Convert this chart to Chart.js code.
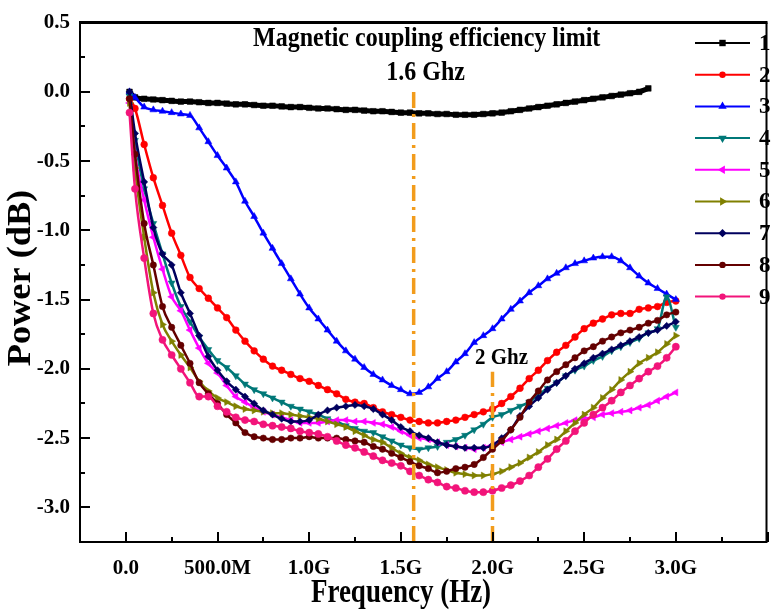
<!DOCTYPE html>
<html>
<head>
<meta charset="utf-8">
<script src="https://cdn.jsdelivr.net/npm/chart.js@4.4.1/dist/chart.umd.min.js"></script>
<style>
  html, body { margin: 0; padding: 0; background: #fff; }
  #wrap { width: 772px; height: 610px; }
</style>
</head>
<body>
<div id="wrap"><canvas id="grafico" width="772" height="610"></canvas></div>
<script>
// Frequencies of the sweep, in GHz
const freqGHz = [
  0.02, 0.05, 0.10, 0.15, 0.20, 0.25, 0.30, 0.35, 0.40, 0.45,
  0.50, 0.55, 0.60, 0.65, 0.70, 0.75, 0.80, 0.85, 0.90, 0.95,
  1.00, 1.05, 1.10, 1.15, 1.20, 1.25, 1.30, 1.35, 1.40, 1.45,
  1.50, 1.55, 1.60, 1.65, 1.70, 1.75, 1.80, 1.85, 1.90, 1.95,
  2.00, 2.05, 2.10, 2.15, 2.20, 2.25, 2.30, 2.35, 2.40, 2.45,
  2.50, 2.55, 2.60, 2.65, 2.70, 2.75, 2.80, 2.85, 2.90, 2.95,
  3.00
];

const seriesNames = ["1", "2", "3", "4", "5", "6", "7", "8", "9"];

// Power (dB) per series, same order as freqGHz
const power1 = [
  0.00, -0.04, -0.05, -0.055, -0.06, -0.065, -0.07, -0.07, -0.075, -0.08,
  -0.08, -0.085, -0.09, -0.09, -0.095, -0.10, -0.10, -0.105, -0.11, -0.11,
  -0.115, -0.12, -0.12, -0.125, -0.13, -0.13, -0.135, -0.14, -0.14, -0.145,
  -0.15, -0.15, -0.155, -0.155, -0.16, -0.16, -0.165, -0.165, -0.165, -0.16,
  -0.155, -0.15, -0.14, -0.13, -0.12, -0.11, -0.10, -0.09, -0.08, -0.07,
  -0.06, -0.05, -0.04, -0.03, -0.02, -0.01, 0.00, 0.025
];
const power2 = [
  -0.05, -0.12, -0.38, -0.62, -0.82, -1.02, -1.18, -1.34, -1.42, -1.49,
  -1.56, -1.63, -1.72, -1.80, -1.87, -1.93, -1.98, -2.01, -2.04, -2.07,
  -2.09, -2.12, -2.15, -2.18, -2.22, -2.24, -2.25, -2.28, -2.31, -2.33,
  -2.35, -2.37, -2.38, -2.39, -2.39, -2.38, -2.37, -2.35, -2.33, -2.31,
  -2.29, -2.25, -2.20, -2.14, -2.07, -2.01, -1.94, -1.88, -1.83, -1.77,
  -1.71, -1.67, -1.64, -1.61, -1.60, -1.60, -1.57, -1.56, -1.55, -1.52,
  -1.51
];
const power3 = [
  0.00, -0.04, -0.11, -0.13, -0.14, -0.15, -0.16, -0.17, -0.26, -0.36,
  -0.46, -0.55, -0.65, -0.79, -0.90, -1.02, -1.13, -1.24, -1.35, -1.46,
  -1.56, -1.64, -1.72, -1.80, -1.87, -1.93, -1.99, -2.04, -2.08, -2.12,
  -2.15, -2.18, -2.17, -2.13, -2.07, -2.02, -1.95, -1.89, -1.81, -1.76,
  -1.71, -1.64, -1.57, -1.51, -1.45, -1.40, -1.35, -1.31, -1.27, -1.24,
  -1.22, -1.20, -1.19, -1.19, -1.22, -1.27, -1.33, -1.38, -1.42, -1.46,
  -1.50
];
const power4 = [
  -0.03, -0.35, -0.70, -0.95, -1.17, -1.38, -1.55, -1.66, -1.77, -1.86,
  -1.94, -1.99, -2.05, -2.11, -2.15, -2.18, -2.21, -2.24, -2.27, -2.29,
  -2.31, -2.33, -2.36, -2.38, -2.41, -2.43, -2.45, -2.46, -2.49, -2.52,
  -2.55, -2.57, -2.58, -2.57, -2.56, -2.53, -2.51, -2.48, -2.44, -2.40,
  -2.35, -2.33, -2.30, -2.27, -2.24, -2.19, -2.14, -2.10, -2.05, -2.01,
  -1.98, -1.94, -1.91, -1.87, -1.84, -1.81, -1.78, -1.74, -1.71, -1.48,
  -1.70
];
const power5 = [
  -0.08, -0.45, -0.78, -1.05, -1.28, -1.48, -1.58, -1.72, -1.85, -1.96,
  -2.03, -2.12, -2.20, -2.24, -2.28, -2.31, -2.33, -2.35, -2.37, -2.39,
  -2.39, -2.39, -2.38, -2.37, -2.37, -2.38, -2.38, -2.39, -2.40, -2.42,
  -2.45, -2.48, -2.50, -2.51, -2.53, -2.55, -2.56, -2.57, -2.58, -2.57,
  -2.55, -2.53, -2.51, -2.49, -2.47, -2.45, -2.43, -2.41, -2.39, -2.37,
  -2.36, -2.35, -2.33, -2.32, -2.31, -2.30, -2.28, -2.26, -2.23, -2.20,
  -2.17
];
const power6 = [
  -0.08, -0.55, -1.05, -1.45, -1.68, -1.80, -1.90, -1.99, -2.09, -2.16,
  -2.21, -2.24, -2.27, -2.29, -2.30, -2.31, -2.32, -2.32, -2.33, -2.34,
  -2.35, -2.36, -2.38, -2.40, -2.42, -2.45, -2.48, -2.51, -2.53, -2.57,
  -2.61, -2.64, -2.66, -2.69, -2.71, -2.73, -2.75, -2.76, -2.77, -2.77,
  -2.76, -2.74, -2.71, -2.68, -2.64, -2.60, -2.55, -2.51, -2.45, -2.39,
  -2.33, -2.28, -2.21, -2.15, -2.08, -2.02, -1.96, -1.92, -1.88, -1.82,
  -1.76
];
const power7 = [
  0.00, -0.30, -0.65, -0.98, -1.17, -1.25, -1.45, -1.60, -1.76, -1.91,
  -2.01, -2.09, -2.15, -2.20, -2.25, -2.30, -2.33, -2.36, -2.38, -2.38,
  -2.37, -2.33, -2.30, -2.28, -2.27, -2.26, -2.27, -2.29, -2.33, -2.37,
  -2.42, -2.45, -2.48, -2.50, -2.53, -2.55, -2.56, -2.57, -2.57, -2.57,
  -2.55, -2.50, -2.44, -2.34, -2.27, -2.21, -2.15, -2.10, -2.05, -2.00,
  -1.96, -1.92, -1.89, -1.86, -1.83, -1.80, -1.77, -1.74, -1.72, -1.69,
  -1.66
];
const power8 = [
  -0.05, -0.45, -0.95, -1.25, -1.55, -1.70, -1.83, -1.96, -2.10, -2.18,
  -2.25, -2.33, -2.39, -2.46, -2.49, -2.50, -2.51, -2.51, -2.50, -2.50,
  -2.49, -2.50, -2.50, -2.50, -2.51, -2.52, -2.53, -2.56, -2.58, -2.61,
  -2.64, -2.67, -2.70, -2.72, -2.75, -2.74, -2.72, -2.71, -2.69, -2.64,
  -2.58, -2.52, -2.44, -2.35, -2.24, -2.16, -2.08, -2.02, -1.97, -1.92,
  -1.87, -1.84, -1.80, -1.77, -1.74, -1.72, -1.70, -1.67, -1.65, -1.61,
  -1.59
];
const power9 = [
  -0.15, -0.70, -1.20, -1.60, -1.79, -1.90, -2.00, -2.10, -2.20, -2.20,
  -2.27, -2.31, -2.35, -2.37, -2.38, -2.40, -2.41, -2.42, -2.43, -2.45,
  -2.46, -2.47, -2.49, -2.52, -2.55, -2.57, -2.60, -2.63, -2.66, -2.68,
  -2.70, -2.74, -2.77, -2.80, -2.82, -2.85, -2.86, -2.88, -2.89, -2.89,
  -2.88, -2.86, -2.84, -2.81, -2.77, -2.71, -2.65, -2.58, -2.52, -2.45,
  -2.39, -2.33, -2.28, -2.23, -2.17, -2.12, -2.07, -2.02, -1.98, -1.92,
  -1.84
];
const allPower = [power1, power2, power3, power4, power5, power6, power7, power8, power9];

// Marked limits: frequency (GHz) and top of each dashed line (dB)
const limitFreqGHz = [1.57, 2.0];
const limitTopDb = [0.035, -2.02];

// Axis ticks
const xTickLabels = ["0.0", "500.0M", "1.0G", "1.5G", "2.0G", "2.5G", "3.0G"];
const yTickLabels = ["0.5", "0.0", "-0.5", "-1.0", "-1.5", "-2.0", "-2.5", "-3.0"];

// Styles
const colors = ["#000000", "#ff0000", "#0000ff", "#007878", "#ff00ff", "#808000", "#00005e", "#640000", "#f2147a"];
const markers = ["rect", "circle", "triangle", "triangle", "triangle", "triangle", "rectRot", "circle", "circle"];
const rotations = [0, 0, 0, 180, 270, 90, 0, 0, 0];
const radii = [4, 3.4, 4, 4, 4, 4, 3.6, 3.2, 3.6];
const ORANGE = "#f29c1c";
const SERIF = "'Liberation Serif', 'Times New Roman', serif";

function isMultiple(v, step) {
  const q = v / step;
  return Math.abs(q - Math.round(q)) < 1e-6;
}

function pontos(valores) {
  return valores.map((v, i) => ({ x: freqGHz[i] * 1e9, y: v }));
}

// Marker for the legend (same shapes as Chart.js points)
function marcador(ctx, estilo, rot, r, x, y, cor) {
  ctx.save();
  ctx.translate(x, y);
  ctx.rotate(rot * Math.PI / 180);
  ctx.fillStyle = cor;
  ctx.beginPath();
  if (estilo === "circle") {
    ctx.arc(0, 0, r, 0, Math.PI * 2);
  } else if (estilo === "rect") {
    ctx.rect(-r, -r, 2 * r, 2 * r);
  } else if (estilo === "rectRot") {
    ctx.moveTo(0, -r * 1.3); ctx.lineTo(r * 1.3, 0); ctx.lineTo(0, r * 1.3); ctx.lineTo(-r * 1.3, 0);
  } else {
    const h = r * 1.5;
    ctx.moveTo(0, -h); ctx.lineTo(h * 0.87, h * 0.5); ctx.lineTo(-h * 0.87, h * 0.5);
  }
  ctx.closePath();
  ctx.fill();
  ctx.restore();
}

function texto(ctx, s, x, y, size, sx, sy, rot) {
  ctx.save();
  ctx.translate(x, y);
  if (rot) ctx.rotate(rot);
  ctx.scale(sx, sy);
  ctx.font = "bold " + size + "px " + SERIF;
  ctx.textAlign = "center";
  ctx.textBaseline = "middle";
  ctx.fillStyle = "#000";
  ctx.fillText(s, 0, 0);
  ctx.restore();
}

// Frame, inward ticks, titles, notes and legend
const moldura = {
  id: "moldura",
  afterDatasetsDraw(chart) {
    const { ctx, chartArea: a, scales: { x, y } } = chart;
    ctx.save();
    ctx.strokeStyle = "#000";
    ctx.lineWidth = 2;
    ctx.beginPath();
    y.ticks.forEach((t) => {
      const py = Math.round(y.getPixelForValue(t.value));
      const len = isMultiple(t.value, 0.5) ? 10 : 5;
      ctx.moveTo(a.left, py); ctx.lineTo(a.left + len, py);
    });
    x.ticks.forEach((t) => {
      const px = Math.round(x.getPixelForValue(t.value));
      const len = isMultiple(t.value, 0.5e9) ? 10 : 5;
      ctx.moveTo(px, a.bottom); ctx.lineTo(px, a.bottom - len);
    });
    ctx.moveTo(a.left, a.top); ctx.lineTo(a.left, a.bottom);
    ctx.lineTo(a.right - 1, a.bottom); ctx.lineTo(a.right - 1, a.top);
    ctx.stroke();
    ctx.lineWidth = 3;
    ctx.beginPath();
    ctx.moveTo(a.left - 1, a.top); ctx.lineTo(a.right, a.top);
    ctx.stroke();

    // axis titles
    texto(ctx, "Frequency (Hz)", 401, 593, 27, 1, 1.25, 0);
    texto(ctx, "Power (dB)", 21, 278, 33, 1.1, 1, -Math.PI / 2);

    // notes on the limits
    const x16 = x.getPixelForValue(limitFreqGHz[0] * 1e9);
    const x20 = x.getPixelForValue(limitFreqGHz[1] * 1e9);
    texto(ctx, "Magnetic coupling efficiency limit", x16 + 13, 39, 24, 1, 1.1, 0);
    texto(ctx, "1.6 Ghz", x16 + 12, 73, 24, 1, 1.1, 0);
    texto(ctx, "2 Ghz", x20 + 9, 358, 21, 1, 1.1, 0);

    // legend
    seriesNames.forEach((nome, i) => {
      const ly = 43 + i * 31.7;
      ctx.strokeStyle = colors[i];
      ctx.lineWidth = 2;
      ctx.beginPath();
      ctx.moveTo(695, ly); ctx.lineTo(750, ly);
      ctx.stroke();
      marcador(ctx, markers[i], rotations[i], 3.2, 722.5, ly, colors[i]);
      ctx.font = "bold 23px " + SERIF;
      ctx.textAlign = "left";
      ctx.textBaseline = "middle";
      ctx.fillStyle = "#000";
      ctx.fillText(nome, 759, ly + 1);
    });
    ctx.restore();
  }
};

function desenharGrafico() {
  const datasets = allPower.map((valores, i) => ({
    label: seriesNames[i],
    data: pontos(valores),
    borderColor: colors[i],
    backgroundColor: colors[i],
    borderWidth: i === 0 ? 5 : 2.5,
    pointStyle: markers[i],
    rotation: rotations[i],
    pointRadius: radii[i],
    pointBorderWidth: 0.5,
    pointBorderColor: colors[i],
    pointBackgroundColor: colors[i],
    cubicInterpolationMode: "monotone",
    order: 20 - i
  }));

  limitFreqGHz.forEach((f, i) => {
    datasets.push({
      label: "limit " + f,
      data: [{ x: f * 1e9, y: -3.25 }, { x: f * 1e9, y: limitTopDb[i] }],
      borderColor: ORANGE,
      borderWidth: 3.5,
      borderDash: [16, 6, 3, 6],
      pointRadius: 0,
      order: 0
    });
  });

  new Chart(document.getElementById("grafico").getContext("2d"), {
    type: "line",
    data: { datasets },
    options: {
      responsive: false,
      animation: false,
      events: [],
      layout: { padding: { top: 20, right: 0, bottom: 0, left: 0 } },
      plugins: {
        legend: { display: false },
        tooltip: { enabled: false }
      },
      scales: {
        x: {
          type: "linear",
          min: -0.25e9,
          max: 3.5e9,
          afterFit: (s) => { s.height = 68; s.paddingLeft = 0; s.paddingRight = 0; },
          grid: { display: false, drawTicks: false },
          border: { display: false },
          ticks: {
            stepSize: 0.25e9,
            autoSkip: false,
            maxRotation: 0,
            padding: 14,
            color: "#000",
            font: { family: SERIF, size: 21, weight: "bold" },
            callback: (v) => {
              const idx = Math.round(v / 0.5e9);
              return isMultiple(v, 0.5e9) && idx >= 0 && idx < xTickLabels.length ? xTickLabels[idx] : "";
            }
          }
        },
        y: {
          min: -3.25,
          max: 0.5,
          afterFit: (s) => { s.width = 80; },
          grid: { display: false, drawTicks: false },
          border: { display: false },
          ticks: {
            stepSize: 0.25,
            autoSkip: false,
            padding: 10,
            color: "#000",
            font: { family: SERIF, size: 21, weight: "bold" },
            callback: (v) => {
              const idx = Math.round((0.5 - v) / 0.5);
              return isMultiple(v, 0.5) && idx >= 0 && idx < yTickLabels.length ? yTickLabels[idx] : "";
            }
          }
        }
      }
    },
    plugins: [moldura]
  });
}

window.addEventListener("DOMContentLoaded", desenharGrafico);
</script>
</body>
</html>
